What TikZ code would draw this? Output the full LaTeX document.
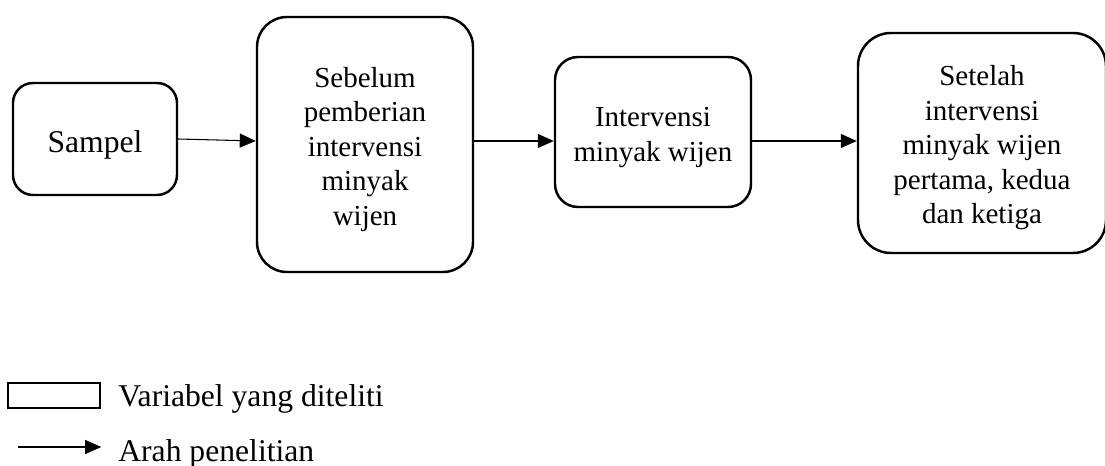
\documentclass[tikz,border=0pt]{standalone}
\usepackage{fontspec}
\setmainfont{Liberation Serif}
\usetikzlibrary{arrows.meta}
\newcommand{\lowtext}{\rule{0pt}{17pt}}
\tikzset{
  varbox/.style={draw, line width=1.4pt, align=center, inner sep=0pt,
    font=\fontsize{16.5}{19.6}\selectfont},
  legtext/.style={anchor=base west, inner sep=0pt, font=\fontsize{18}{19.6}\selectfont},
  flow/.style={-{Triangle[length=0.32cm,width=0.28cm]}, line width=0.6pt},
}
\begin{document}
\begin{tikzpicture}
\useasboundingbox (0,0) rectangle (22.1,9.32);
\node[varbox, font=\fontsize{18}{19.6}\selectfont, rounded corners=0.4cm, minimum width=3.28cm, minimum height=2.24cm] (sampel) at (1.90,6.54) {\rule{0pt}{19pt}Sampel};
\node[varbox, rounded corners=0.6cm, minimum width=4.32cm, minimum height=5.10cm] (sebelum) at (7.30,6.43) {\lowtext Sebelum\\pemberian\\intervensi\\minyak\\wijen};
\node[varbox, rounded corners=0.46cm, minimum width=3.92cm, minimum height=3.00cm] (intervensi) at (13.06,6.68) {\lowtext Intervensi\\minyak wijen};
\node[varbox, rounded corners=0.66cm, minimum width=4.96cm, minimum height=4.40cm] (setelah) at (19.64,6.46) {\lowtext Setelah\\intervensi\\minyak wijen\\pertama, kedua\\dan ketiga};
\coordinate (row) at (0,6.50);
\draw[flow] (sampel.east) -- (sebelum.west |- row);
\draw[flow] (sebelum.east |- row) -- (intervensi.west |- row);
\draw[flow] (intervensi.east |- row) -- (setelah.west |- row);
% legend
\node[draw, line width=1.4pt, minimum width=1.84cm, minimum height=0.5cm, inner sep=0pt] (legbox) at (1.08,1.41) {};
\node[legtext] (legboxtext) at (2.36,1.18) {Variabel yang diteliti};
\coordinate (legstart) at (0.36,0.38);
\node[legtext] (legflowtext) at (2.36,0.08) {Arah penelitian};
\draw[flow] (legstart) -- (legstart -| legbox.east);
\end{tikzpicture}
\end{document}
